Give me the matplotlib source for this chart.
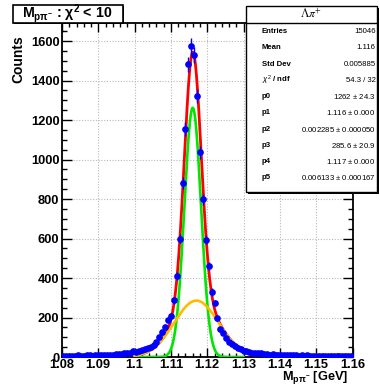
import numpy as np
import matplotlib
matplotlib.use('Agg')
import matplotlib.pyplot as plt
from matplotlib.patches import Rectangle
from matplotlib.ticker import MultipleLocator, FuncFormatter

W, H = 380, 387

# histogram definition
bin_lo, bin_hi, nbins = 1.08, 1.16, 100
counts = [5, 6, 5, 7, 6, 8, 7, 6, 9, 8,
          7, 9, 10, 8, 11, 10, 12, 11, 14, 13,
          16, 18, 18, 22, 28, 25, 30, 33, 38, 45,
          52, 62, 78, 100, 125, 150, 187, 210, 287, 408,
          600, 883, 1154, 1482, 1575, 1529, 1321, 1036, 798, 595,
          461, 329, 273, 196, 140, 122, 98, 78, 68, 58,
          48, 38, 32, 28, 25, 22, 20, 18, 20, 15,
          14, 12, 13, 11, 10, 12, 9, 10, 8, 9,
          10, 7, 8, 6, 8, 7, 5, 6, 7, 5,
          6, 7, 5, 6, 5, 7, 5, 6, 5, 6]

# fit parameters (two gaussians)
params = [1262, 1.116, 0.002285, 285.6, 1.117, 0.006133]
fit_range = (1.10, 1.13)

title_text = r"M$_{\mathbf{p\pi^{-}}}$ : $\mathbf{\chi^{2}}$ < 10"
stats_header = r"$\Lambda\pi^{+}$"
stat_labels = ["Entries", "Mean", "Std Dev", r"$\chi^{2}$ / ndf", "p0", "p1", "p2", "p3", "p4", "p5"]
stat_values = ["15046", "1.116", "0.005885", "54.3 / 32", "1262 $\\pm$ 24.3",
               "1.116 $\\pm$ 0.000", "0.002285 $\\pm$ 0.000050", "285.6 $\\pm$ 20.9",
               "1.117 $\\pm$ 0.000", "0.006133 $\\pm$ 0.000167"]

plt.rcParams['font.family'] = ['Liberation Sans', 'DejaVu Sans']
plt.rcParams['mathtext.fontset'] = 'custom'
plt.rcParams['mathtext.rm'] = 'Liberation Sans'
plt.rcParams['mathtext.bf'] = 'Liberation Sans:bold'
plt.rcParams['mathtext.it'] = 'Liberation Sans:italic'

fig = plt.figure(figsize=(W / 100, H / 100), dpi=100)


def fx(px):
    return px / W


def fy(py):
    return 1 - py / H


ax = fig.add_axes([fx(62), fy(357), fx(352.5) - fx(62), fy(22.5) - fy(357)])

edges = np.linspace(bin_lo, bin_hi, nbins + 1)
centers = 0.5 * (edges[:-1] + edges[1:])
y = np.array(counts, dtype=float)
yerr = np.sqrt(y)
xerr = 0.5 * (edges[1] - edges[0])

# fit functions
xf = np.linspace(fit_range[0], fit_range[1], 600)
g1 = params[0] * np.exp(-0.5 * ((xf - params[1]) / params[2]) ** 2)
g2 = params[3] * np.exp(-0.5 * ((xf - params[4]) / params[5]) ** 2)

ax.plot(xf, g1 + g2, color='#ff0000', lw=2.0, zorder=3)
ax.plot(xf, g1, color='#00e600', lw=1.9, zorder=3)
ax.plot(xf, g2, color='#ffbb00', lw=1.9, zorder=4)

ax.errorbar(centers, y, yerr=yerr, xerr=xerr, fmt='o', color='#0000ff',
            ms=3.8, mec='#0000ff', mfc='#0000ff', elinewidth=1.0, capsize=0, zorder=5)

ax.set_xlim(bin_lo, bin_hi)
ax.set_ylim(0, 1694)

ax.xaxis.set_major_locator(MultipleLocator(0.01))
ax.xaxis.set_minor_locator(MultipleLocator(0.002))
ax.yaxis.set_major_locator(MultipleLocator(200))
ax.yaxis.set_minor_locator(MultipleLocator(50))
ax.xaxis.set_major_formatter(FuncFormatter(lambda v, p: ("%.2f" % v).rstrip('0').rstrip('.') if abs(v) > 1e-9 else "0"))
ax.yaxis.set_major_formatter(FuncFormatter(lambda v, p: "%d" % round(v)))

ax.tick_params(which='both', direction='in', top=True, right=True, width=1.0, color='black')
ax.tick_params(axis='x', which='major', length=6.3, pad=1.3, labelsize=9.3)
ax.tick_params(axis='x', which='minor', length=3.2)
ax.tick_params(axis='y', which='major', length=7.2, pad=1.8, labelsize=9.3)
ax.tick_params(axis='y', which='minor', length=3.6)
for lab in ax.get_xticklabels() + ax.get_yticklabels():
    lab.set_fontweight('bold')

ax.grid(True, which='major', color='#b8b8b8', linestyle=(0, (1, 1.5)), linewidth=0.8)
ax.set_axisbelow(True)
for s in ax.spines.values():
    s.set_linewidth(1.3)

# axis titles
fig.text(fx(18), fy(35), "Counts", rotation=90, ha='center', va='top',
         fontsize=10, fontweight='bold')
fig.text(fx(348), fy(386.5), r"M$_{\mathbf{p\pi^{-}}}$ [GeV]", ha='right', va='bottom',
         fontsize=9.2, fontweight='bold')

# title box
fig.patches.append(Rectangle((fx(14.0), fy(24.0)), fx(124.0) - fx(14.0), fy(6.0) - fy(24.0),
                             transform=fig.transFigure, facecolor='black', edgecolor='black',
                             lw=0, zorder=9))
fig.patches.append(Rectangle((fx(12.5), fy(22.5)), fx(122.5) - fx(12.5), fy(4.5) - fy(22.5),
                             transform=fig.transFigure, facecolor='white', edgecolor='black',
                             lw=1.2, zorder=10))
fig.text(fx(67.0), fy(13.8), title_text, ha='center', va='center', fontsize=10.2,
         fontweight='bold', zorder=11)

# stats box
bx0, bx1, by0, by1 = 246, 377, 6, 192
fig.patches.append(Rectangle((fx(bx0 + 2), fy(by1 + 2)), fx(bx1 + 2) - fx(bx0 + 2), fy(by0 + 2) - fy(by1 + 2),
                             transform=fig.transFigure, facecolor='black', edgecolor='black',
                             lw=0, zorder=9))
fig.patches.append(Rectangle((fx(bx0), fy(by1)), fx(bx1) - fx(bx0), fy(by0) - fy(by1),
                             transform=fig.transFigure, facecolor='white', edgecolor='black',
                             lw=1.0, zorder=10))
fig.add_artist(plt.Line2D([fx(bx0), fx(bx1)], [fy(22.7), fy(22.7)], transform=fig.transFigure,
                          color='black', lw=1.0, zorder=11))
fig.text(fx((bx0 + bx1) / 2), fy(14.5), stats_header, ha='center', va='center', fontsize=8.5,
         math_fontfamily='stix', zorder=12)
row_y0, row_dy = 31.7, 16.22
for i, (lab, val) in enumerate(zip(stat_labels, stat_values)):
    yy = fy(row_y0 + i * row_dy)
    fig.text(fx(261.5), yy, lab, ha='left', va='center', fontsize=5.6, fontweight='bold', zorder=12)
    fig.text(fx(375.5), yy, val, ha='right', va='center', fontsize=5.6, zorder=12)

fig.savefig('out.png', dpi=100)
